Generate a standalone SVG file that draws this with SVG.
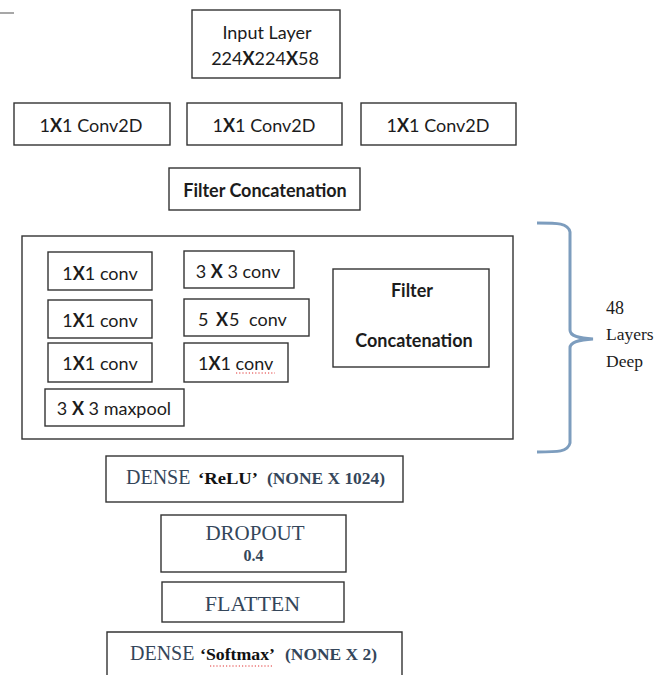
<svg xmlns="http://www.w3.org/2000/svg" width="671" height="675" viewBox="0 0 671 675">
<style>
.box{fill:#fff;stroke:#333;stroke-width:1.4}
.c{font-family:Lato,"Liberation Sans",sans-serif;font-size:18px;fill:#1c1c1c}
.cb{font-family:Lato,"Liberation Sans",sans-serif;font-size:18px;font-weight:bold;fill:#1c1c1c}
.b{font-weight:bold}
.t{font-family:"Liberation Serif",serif;fill:#34465a}
.tb{font-family:"Liberation Serif",serif;font-weight:bold}
.m{text-anchor:middle}
.sq{stroke:#e03030;stroke-width:1;stroke-dasharray:1.2 2;fill:none}
</style>
<rect width="671" height="675" fill="#fff"/>
<line x1="0" y1="13" x2="14" y2="13" stroke="#8a8a8a" stroke-width="1.5"/>
<g id="input">
<rect class="box" x="192" y="10" width="148" height="68"/>
<text class="c m" x="267" y="39">Input Layer</text>
<text class="c m" x="265" y="65">224<tspan class="b">X</tspan>224<tspan class="b">X</tspan>58</text>
</g>
<g id="conv2d-1">
<rect class="box" x="14" y="103" width="156" height="42"/>
<text class="c m" x="91" y="132">1<tspan class="b">X</tspan>1 Conv2D</text>
</g>
<g id="conv2d-2">
<rect class="box" x="187" y="103" width="155" height="42"/>
<text class="c m" x="264" y="132">1<tspan class="b">X</tspan>1 Conv2D</text>
</g>
<g id="conv2d-3">
<rect class="box" x="361" y="103" width="155" height="42"/>
<text class="c m" x="438" y="132">1<tspan class="b">X</tspan>1 Conv2D</text>
</g>
<g id="filter-concat-1">
<rect class="box" x="169" y="168" width="191" height="42"/>
<text class="cb m" x="265" y="197">Filter Concatenation</text>
</g>
<g id="inception-block">
<rect class="box" x="22" y="236" width="491" height="203"/>
</g>
<g id="conv1x1-a">
<rect class="box" x="48" y="252" width="104" height="38"/>
<text class="c m" x="100" y="280">1<tspan class="b">X</tspan>1 conv</text>
</g>
<g id="conv1x1-b">
<rect class="box" x="48" y="300" width="104" height="38"/>
<text class="c m" x="100" y="327">1<tspan class="b">X</tspan>1 conv</text>
</g>
<g id="conv1x1-c">
<rect class="box" x="48" y="343" width="104" height="39"/>
<text class="c m" x="100" y="370">1<tspan class="b">X</tspan>1 conv</text>
</g>
<g id="maxpool">
<rect class="box" x="45" y="389" width="139" height="37"/>
<text class="c m" x="114" y="415">3 <tspan class="b">X</tspan> 3 maxpool</text>
</g>
<g id="conv3x3">
<rect class="box" x="184" y="251" width="110" height="37"/>
<text class="c m" x="238" y="278">3 <tspan class="b">X</tspan> 3 conv</text>
</g>
<g id="conv5x5">
<rect class="box" x="184" y="299" width="125" height="37"/>
<text class="c" x="198" y="326">5</text>
<text class="cb" x="216" y="326">X</text>
<text class="c" x="229" y="326">5</text>
<text class="c" x="249" y="326">conv</text>
</g>
<g id="conv1x1-d">
<rect class="box" x="184" y="343" width="104" height="39"/>
<text class="c" x="198" y="370">1<tspan class="b">X</tspan>1 conv</text>
<line class="sq" x1="236" y1="373" x2="275" y2="373"/>
</g>
<g id="filter-concat-2">
<rect class="box" x="333" y="269" width="156" height="98"/>
<text class="cb m" x="412" y="297">Filter</text>
<text class="cb m" x="414" y="347">Concatenation</text>
</g>
<g id="depth-brace">
<path d="M537,223 C558,223 568,223 570,232 L570,330 C570,336 578,338 593,339 C578,340 570,342 570,348 L570,443 C568,452 558,452 537,452" fill="none" stroke="#7d9dbe" stroke-width="3"/>
<text class="t" x="606" y="314" font-size="18" style="fill:#1c1c1c">48</text>
<text class="t" x="606" y="340" font-size="17.5" style="fill:#1c1c1c">Layers</text>
<text class="t" x="606" y="367" font-size="17.5" style="fill:#1c1c1c">Deep</text>
</g>
<g id="dense-relu">
<rect class="box" x="106" y="456" width="297" height="46"/>
<text class="t" x="126" y="484" font-size="20">DENSE</text>
<text class="tb" x="198" y="484" font-size="16" fill="#111" textLength="60" lengthAdjust="spacingAndGlyphs">‘ReLU’</text>
<text class="t tb" x="267" y="484" font-size="16" textLength="118" lengthAdjust="spacingAndGlyphs">(NONE X 1024)</text>
</g>
<g id="dropout">
<rect class="box" x="161" y="515" width="185" height="57"/>
<text class="t m" x="255" y="540" font-size="21">DROPOUT</text>
<text class="t tb m" x="253.5" y="561" font-size="16">0.4</text>
</g>
<g id="flatten">
<rect class="box" x="162" y="582" width="182" height="40"/>
<text class="t m" x="252.5" y="611" font-size="22">FLATTEN</text>
</g>
<g id="dense-softmax">
<path class="box" d="M107,676 V632 H402 V676" fill="none"/>
<text class="t" x="130" y="660" font-size="20">DENSE</text>
<text class="tb" x="200" y="660" font-size="16" fill="#111" textLength="75" lengthAdjust="spacingAndGlyphs">‘Softmax’</text>
<text class="t tb" x="285" y="660" font-size="16" textLength="92" lengthAdjust="spacingAndGlyphs">(NONE X 2)</text>
<line class="sq" x1="210" y1="666" x2="273" y2="666"/>
</g>
<g id="connectors"/>
</svg>
